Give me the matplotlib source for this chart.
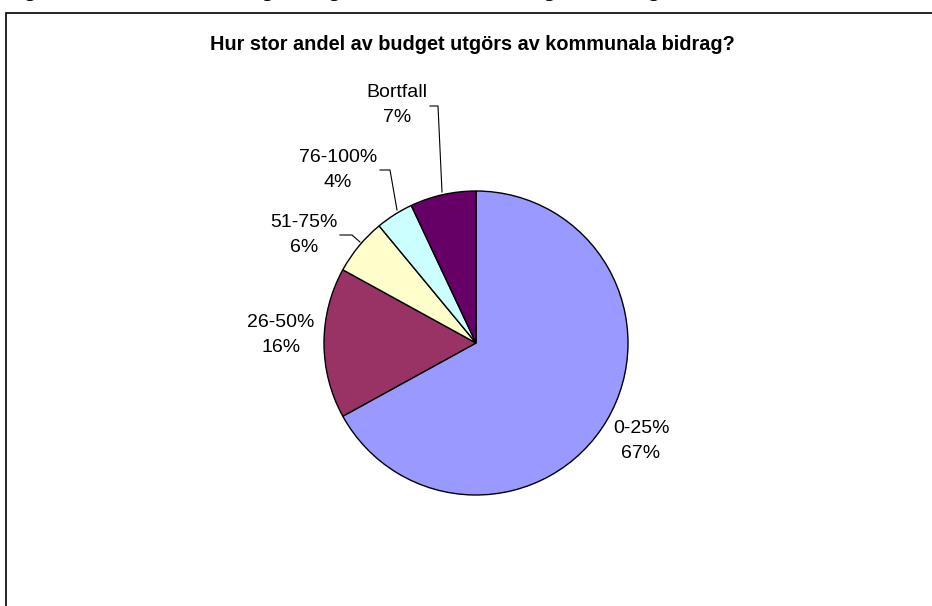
import matplotlib.pyplot as plt
from matplotlib.patches import Rectangle

plt.rcParams['font.family'] = ['Liberation Sans', 'DejaVu Sans']

categories = ['0-25%', '26-50%', '51-75%', '76-100%', 'Bortfall']
shares     = [67, 16, 6, 4, 7]
colors     = ['#9999FF', '#993366', '#FFFFCC', '#CCFFFF', '#660066']
title      = 'Hur stor andel av budget utgörs av kommunala bidrag?'
caption    = 'Figur 9. Hur stor andel av budgeten utgörs av kommunala bidrag för föreningarna i kommunen'

W, H = 932, 606
fig = plt.figure(figsize=(W / 100, H / 100), dpi=100)
ax  = fig.add_axes([0, 0, 1, 1])

# cut-off caption above the chart frame (only descenders show)
fig.text(8 / W, 1 + 3 / H, caption, family='Liberation Serif', weight='bold',
         fontsize=14, va='baseline', ha='left')

# chart frame
ax.add_patch(Rectangle((5.5, -10), W, H - 12.5 + 10, fill=False, ec='black', lw=1.2))

cx, cy, r = 476, H - 343, 152
ax.pie(shares, colors=colors, startangle=90, counterclock=False, center=(cx, cy),
       radius=r, wedgeprops=dict(edgecolor='black', linewidth=1.0), frame=True)
ax.set_xlim(0, W)
ax.set_ylim(0, H)
ax.set_aspect('equal')
ax.axis('off')

ax.text(472, H - 45, title, ha='center', va='center', fontsize=14.3, weight='bold')

fs = 14
# label positions (pixel coords from top) and leader lines
labels = [
    (641, 441, None),
    (281, 335, None),
    (304, 235, [(360, 242), (352, 235), (340, 235)]),
    (338, 170, [(397, 210), (390, 170), (380, 170)]),
    (397, 105, [(442, 192), (438, 106), (430, 106)]),
]
for (name, val), (lx, ly, line) in zip(zip(categories, shares), labels):
    ax.text(lx, H - ly, f'{name}\n{val}%', ha='center', va='center',
            fontsize=fs, linespacing=1.55)
    if line:
        xs = [p[0] for p in line]
        ys = [H - p[1] for p in line]
        ax.plot(xs, ys, color='black', lw=0.8)

fig.savefig('out.png', dpi=100)
